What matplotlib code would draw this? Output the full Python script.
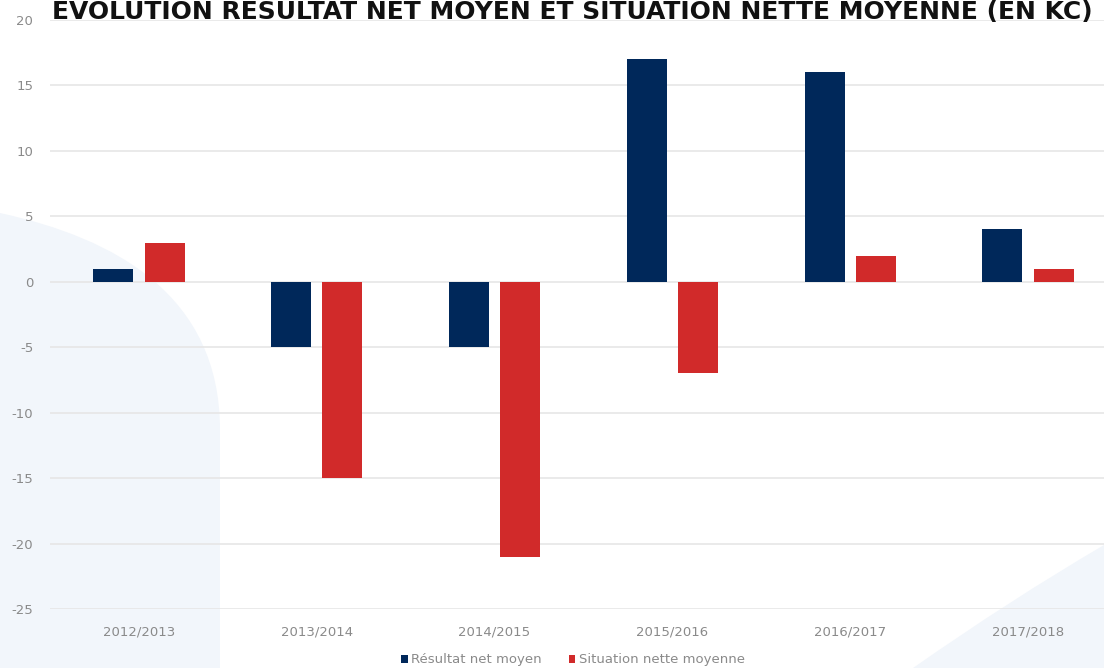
import matplotlib.pyplot as plt
import numpy as np
from matplotlib.path import Path
from matplotlib.patches import PathPatch

years = ["2012/2013", "2013/2014", "2014/2015", "2015/2016", "2016/2017", "2017/2018"]
resultat_net = [1, -5, -5, 17, 16, 4]
situation_nette = [3, -15, -21, -7, 2, 1]
yticks = [-25, -20, -15, -10, -5, 0, 5, 10, 15, 20]

navy = "#00285a"
red = "#d12a2a"
grey = "#8a8a8a"
bg = "#f2f6fb"

plt.rcParams["axes.unicode_minus"] = False

W, H = 1104, 668
fig = plt.figure(figsize=(W / 100, H / 100), dpi=100)

# decorative background shapes, drawn in pixel coords (y from top)
def px(pts):
    return [(x / W, 1 - y / H) for x, y in pts]

left = Path(px([(0, 668), (0, 213), (115, 238), (220, 295), (220, 430), (220, 668), (0, 668)]),
            [Path.MOVETO, Path.LINETO, Path.CURVE4, Path.CURVE4, Path.CURVE4,
             Path.LINETO, Path.CLOSEPOLY])
fig.patches.append(PathPatch(left, transform=fig.transFigure, fc=bg, ec="none", zorder=-5))
right = Path(px([(913, 668), (1010, 600), (1104, 545), (1104, 668), (913, 668)]),
             [Path.MOVETO, Path.CURVE3, Path.CURVE3, Path.LINETO, Path.CLOSEPOLY])
fig.patches.append(PathPatch(right, transform=fig.transFigure, fc=bg, ec="none", zorder=-5))

ax = fig.add_axes([50 / W, (H - 609) / H, (W - 50) / W, 589 / H])
ax.set_facecolor("none")

x = np.arange(len(years))
w = 0.225
off = 0.144
ax.bar(x - off, resultat_net, w, color=navy, label="Résultat net moyen", zorder=3)
ax.bar(x + off, situation_nette, w, color=red, label="Situation nette moyenne", zorder=3)

ax.set_xlim(-0.5, (W - 139) / 177.8)
ax.set_ylim(-25, 20)
ax.set_yticks(yticks)
ax.set_xticks(x)
ax.set_xticklabels(years)
ax.grid(axis="y", color="#e6e6e6", lw=1.2, zorder=0)
ax.tick_params(length=0, colors=grey, labelsize=9.5)
ax.tick_params(axis="y", pad=12)
ax.tick_params(axis="x", pad=12)
for s in ax.spines.values():
    s.set_visible(False)

fig.text(572 / W, 1 - 19 / H, "ÉVOLUTION RÉSULTAT NET MOYEN ET SITUATION NETTE MOYENNE (EN KC)",
         ha="center", va="baseline", fontsize=18, fontweight="bold", color="#111111")

leg = fig.legend(loc="center", bbox_to_anchor=(573 / W, 1 - 660 / H), ncol=2, frameon=False,
                 fontsize=9.5, handlelength=0.5, handleheight=0.5, handletextpad=0.3,
                 columnspacing=2.0, labelcolor=grey)

plt.savefig("out.png", dpi=100)
